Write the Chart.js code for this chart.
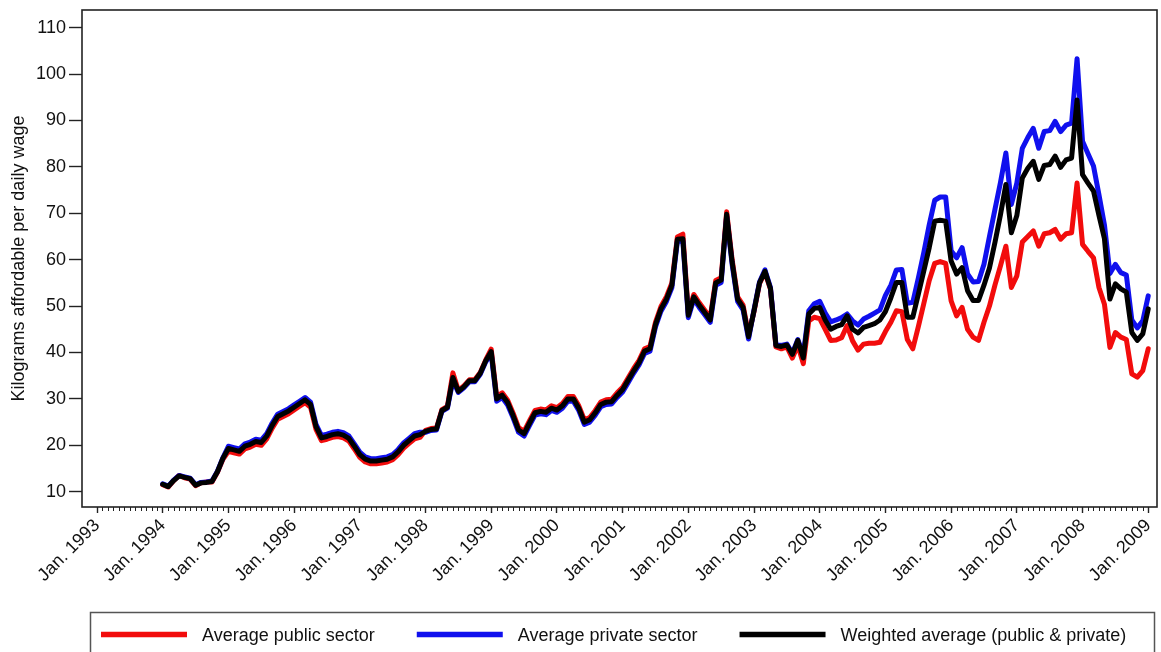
<!DOCTYPE html>
<html>
<head>
<meta charset="utf-8">
<title>Kilograms affordable per daily wage</title>
<script src="https://cdn.jsdelivr.net/npm/chart.js@4.4.1/dist/chart.umd.min.js"></script>
<style>
  html, body { margin: 0; padding: 0; background: #fff; }
  #wrap { width: 1161px; height: 652px; position: relative; }
</style>
</head>
<body>
<div id="wrap"><canvas id="chart"></canvas></div>
<script>
// monthly values, Jan. 1994 .. Jan. 2009 (one row per year)
const firstMonth = 12; // months after Jan. 1993

const publicSector = [
  11.5, 11.0, 12.4, 13.5, 13.0, 12.7, 11.3, 11.9, 12.1, 12.1, 14.2, 17.0,
  18.7, 18.4, 18.1, 19.2, 19.6, 20.2, 20.0, 21.4, 23.7, 25.6, 26.2, 26.8,
  27.6, 28.4, 29.2, 28.2, 23.4, 21.0, 21.3, 21.7, 21.9, 21.6, 20.9, 19.2,
  17.4, 16.4, 16.0, 16.0, 16.2, 16.4, 16.9, 18.0, 19.4, 20.4, 21.4, 21.7,
  23.2, 23.6, 23.7, 27.7, 28.4, 35.6, 31.8, 32.8, 34.1, 34.1, 35.7, 38.4,
  40.7, 30.5, 31.3, 29.7, 26.9, 23.8, 23.0, 25.3, 27.5, 27.8, 27.6, 28.5,
  28.1, 29.0, 30.5, 30.5, 28.5, 25.5, 26.0, 27.5, 29.3, 29.8, 29.9, 31.3,
  32.5, 34.5, 36.5, 38.3, 40.8, 41.3, 46.5, 49.9, 52.0, 55.0, 64.9, 65.5,
  48.5, 52.5, 50.7, 49.1, 47.5, 55.5, 56.1, 70.3, 60.0, 52.0, 50.2, 43.9,
  48.8, 54.8, 57.3, 53.6, 41.2, 40.8, 41.2, 38.8, 41.5, 37.6, 46.8, 47.6,
  47.3, 45.0, 42.6, 42.7, 43.2, 45.8, 42.5, 40.5, 41.8, 42.0, 42.0, 42.2,
  44.5, 46.5, 49.0, 48.8, 42.8, 40.8, 45.5, 50.5, 55.5, 59.2, 59.6, 59.2,
  51.1, 47.9, 49.7, 45.0, 43.3, 42.6, 46.5, 50.0, 54.5, 58.6, 62.9, 54.0,
  56.5, 63.8, 65.0, 66.2, 62.9, 65.6, 65.8, 66.5, 64.4, 65.6, 65.8, 76.5,
  63.3, 61.8, 60.4, 54.0, 50.4, 41.1, 44.3, 43.3, 42.8, 35.4, 34.7, 36.1,
  40.8
];

const privateSector = [
  11.7, 11.2, 12.5, 13.5, 13.2, 12.9, 11.5, 12.0, 12.1, 12.3, 14.4, 17.3,
  19.8, 19.5, 19.2, 20.3, 20.7, 21.3, 21.1, 22.5, 24.8, 26.7, 27.3, 27.9,
  28.7, 29.5, 30.3, 29.3, 24.5, 22.1, 22.4, 22.8, 23.0, 22.7, 22.0, 20.3,
  18.5, 17.5, 17.1, 17.1, 17.3, 17.5, 18.0, 19.1, 20.5, 21.5, 22.5, 22.8,
  22.8, 23.2, 23.3, 27.3, 28.0, 34.0, 31.4, 32.4, 33.7, 33.7, 35.3, 38.0,
  39.7, 29.5, 30.3, 28.7, 25.9, 22.8, 22.0, 24.3, 26.5, 26.8, 26.6, 27.5,
  27.1, 28.0, 29.5, 29.5, 27.5, 24.5, 25.0, 26.5, 28.3, 28.8, 28.9, 30.3,
  31.5, 33.5, 35.5, 37.3, 39.8, 40.3, 45.5, 48.9, 51.0, 54.0, 63.9, 64.0,
  47.5, 51.5, 49.7, 48.1, 46.5, 54.5, 55.1, 69.3, 59.0, 51.0, 49.2, 42.9,
  49.2, 55.2, 57.8, 54.0, 41.7, 41.5, 41.8, 39.8, 42.8, 39.5, 49.0, 50.5,
  51.0, 48.5, 46.6, 47.0, 47.5, 48.3, 46.8, 45.9, 47.2, 47.8, 48.5, 49.2,
  52.3, 54.5, 57.8, 57.9, 50.6, 50.8, 56.0, 61.5, 67.5, 72.8, 73.5, 73.5,
  61.9, 60.4, 62.6, 56.9, 55.2, 55.3, 59.0, 65.0, 70.8, 76.6, 83.0, 71.9,
  76.5, 84.0, 86.3, 88.3, 84.0, 87.6, 87.8, 89.8, 87.6, 89.0, 89.4, 103.3,
  85.5, 82.8, 80.2, 74.0, 67.5, 57.0, 59.0, 57.2, 56.7, 47.0, 45.3, 46.8,
  52.2
];

const weightedAvg = [
  11.6, 11.1, 12.4, 13.4, 13.1, 12.8, 11.4, 11.9, 12.0, 12.2, 14.3, 17.2,
  19.3, 19.0, 18.7, 19.8, 20.2, 20.8, 20.6, 22.0, 24.3, 26.2, 26.8, 27.4,
  28.2, 29.0, 29.8, 28.8, 24.0, 21.6, 21.9, 22.3, 22.5, 22.2, 21.5, 19.8,
  18.0, 17.0, 16.6, 16.6, 16.8, 17.0, 17.5, 18.6, 20.0, 21.0, 22.0, 22.3,
  23.0, 23.4, 23.5, 27.5, 28.2, 34.6, 31.6, 32.6, 33.9, 33.9, 35.5, 38.2,
  40.2, 30.0, 30.8, 29.2, 26.4, 23.3, 22.5, 24.8, 27.0, 27.3, 27.1, 28.0,
  27.6, 28.5, 30.0, 30.0, 28.0, 25.0, 25.5, 27.0, 28.8, 29.3, 29.4, 30.8,
  32.0, 34.0, 36.0, 37.8, 40.3, 40.8, 46.0, 49.4, 51.5, 54.5, 64.4, 64.5,
  48.0, 52.0, 50.2, 48.6, 47.0, 55.0, 55.6, 69.8, 59.5, 51.5, 49.7, 43.4,
  49.0, 55.0, 57.5, 53.8, 41.5, 41.3, 41.6, 39.6, 42.6, 38.8, 48.3, 49.5,
  49.7, 47.0, 45.0, 45.6, 46.0, 47.9, 45.0, 44.2, 45.4, 45.8, 46.2, 47.0,
  48.8, 51.8, 55.1, 55.1, 47.6, 47.6, 52.5, 57.5, 62.6, 68.3, 68.5, 68.3,
  59.7, 56.9, 58.3, 53.3, 51.2, 51.2, 54.5, 58.2, 63.7, 69.6, 76.2, 65.8,
  69.5, 77.6, 79.7, 81.2, 77.3, 80.3, 80.5, 82.3, 79.9, 81.5, 81.9, 94.4,
  78.3, 76.5, 74.8, 69.5, 64.5, 51.5, 54.8, 53.7, 53.0, 44.3, 42.6, 44.0,
  49.4
];

const yTicks = [10, 20, 30, 40, 50, 60, 70, 80, 90, 100, 110];
const xTickLabels = [
  'Jan. 1993', 'Jan. 1994', 'Jan. 1995', 'Jan. 1996', 'Jan. 1997', 'Jan. 1998',
  'Jan. 1999', 'Jan. 2000', 'Jan. 2001', 'Jan. 2002', 'Jan. 2003', 'Jan. 2004',
  'Jan. 2005', 'Jan. 2006', 'Jan. 2007', 'Jan. 2008', 'Jan. 2009'
];
const seriesNames = [
  'Average public sector',
  'Average private sector',
  'Weighted average (public & private)'
];
const seriesColors = ['#f20c0c', '#1010ee', '#000000'];

const FONT = '"Liberation Sans", Arial, Helvetica, sans-serif';
const toPoints = arr => arr.map((v, k) => ({ x: firstMonth + k, y: v }));

// monthly minor ticks, plot box and the boxed legend
const stataBits = {
  id: 'stataBits',
  beforeDatasetsDraw(chart) {
    const { ctx, chartArea: a } = chart;
    const xs = chart.scales.x;
    ctx.save();
    ctx.strokeStyle = '#222';
    ctx.lineWidth = 1.6;
    ctx.strokeRect(a.left, a.top, a.right - a.left, a.bottom - a.top);
    ctx.lineWidth = 1;
    ctx.beginPath();
    for (let m = 0; m <= (xTickLabels.length - 1) * 12; m++) {
      if (m % 12 === 0) continue;
      const px = Math.round(xs.getPixelForValue(m)) + 0.5;
      ctx.moveTo(px, a.bottom);
      ctx.lineTo(px, a.bottom + 4);
    }
    ctx.stroke();
    ctx.restore();
  },
  afterDraw(chart) {
    const c = chart.ctx;
    c.save();
    c.strokeStyle = '#555';
    c.lineWidth = 1.5;
    c.strokeRect(90.5, 612.5, 1064, 60);
    c.font = '18px ' + FONT;
    c.textBaseline = 'middle';
    let x = 101;
    chart.data.datasets.forEach(ds => {
      c.strokeStyle = ds.borderColor;
      c.lineWidth = 5.5;
      c.beginPath();
      c.moveTo(x, 634.5);
      c.lineTo(x + 86, 634.5);
      c.stroke();
      c.fillStyle = '#111';
      c.fillText(ds.label, x + 101, 636);
      x += 101 + c.measureText(ds.label).width + 42;
    });
    c.restore();
  }
};

const series = [publicSector, privateSector, weightedAvg];

new Chart(document.getElementById('chart'), {
  type: 'line',
  data: {
    datasets: series.map((arr, i) => ({
      label: seriesNames[i],
      data: toPoints(arr),
      borderColor: seriesColors[i],
      backgroundColor: seriesColors[i],
      borderWidth: 5,
      pointRadius: 0,
      tension: 0,
      borderJoinStyle: 'round',
      borderCapStyle: 'round',
      fill: false,
      order: 3 - i
    }))
  },
  options: {
    responsive: true,
    maintainAspectRatio: false,
    devicePixelRatio: 1,
    animation: false,
    layout: { padding: { top: 10, right: 4, left: 0, bottom: 0 } },
    plugins: {
      legend: { display: false },
      tooltip: { enabled: false }
    },
    scales: {
      x: {
        type: 'linear',
        min: -2.74,
        max: 193.6,
        afterBuildTicks: axis => {
          axis.ticks = xTickLabels.map((_, k) => ({ value: k * 12 }));
        },
        afterFit: axis => {
          axis.height = 145;
          axis.paddingLeft = 0;
          axis.paddingRight = 0;
        },
        grid: {
          drawOnChartArea: false,
          drawTicks: true,
          tickLength: 6,
          tickColor: '#222',
          tickWidth: 1.4
        },
        border: { display: false },
        ticks: {
          autoSkip: false,
          maxRotation: 45,
          minRotation: 45,
          padding: 2,
          color: '#111',
          font: { family: FONT, size: 18 },
          callback: (v, k) => xTickLabels[k]
        }
      },
      y: {
        min: 6.7,
        max: 113.8,
        afterBuildTicks: axis => {
          axis.ticks = yTicks.map(v => ({ value: v }));
        },
        afterFit: axis => {
          axis.width = 82;
          axis.paddingTop = 0;
          axis.paddingBottom = 0;
        },
        grid: {
          drawOnChartArea: false,
          drawTicks: true,
          tickLength: 13,
          tickColor: '#222',
          tickWidth: 1.4
        },
        border: { display: false },
        ticks: {
          padding: 3,
          color: '#111',
          font: { family: FONT, size: 18 }
        },
        title: {
          display: true,
          text: 'Kilograms affordable per daily wage',
          color: '#111',
          font: { family: FONT, size: 18 },
          padding: { top: 8, bottom: 0 }
        }
      }
    }
  },
  plugins: [stataBits]
});
</script>
</body>
</html>
